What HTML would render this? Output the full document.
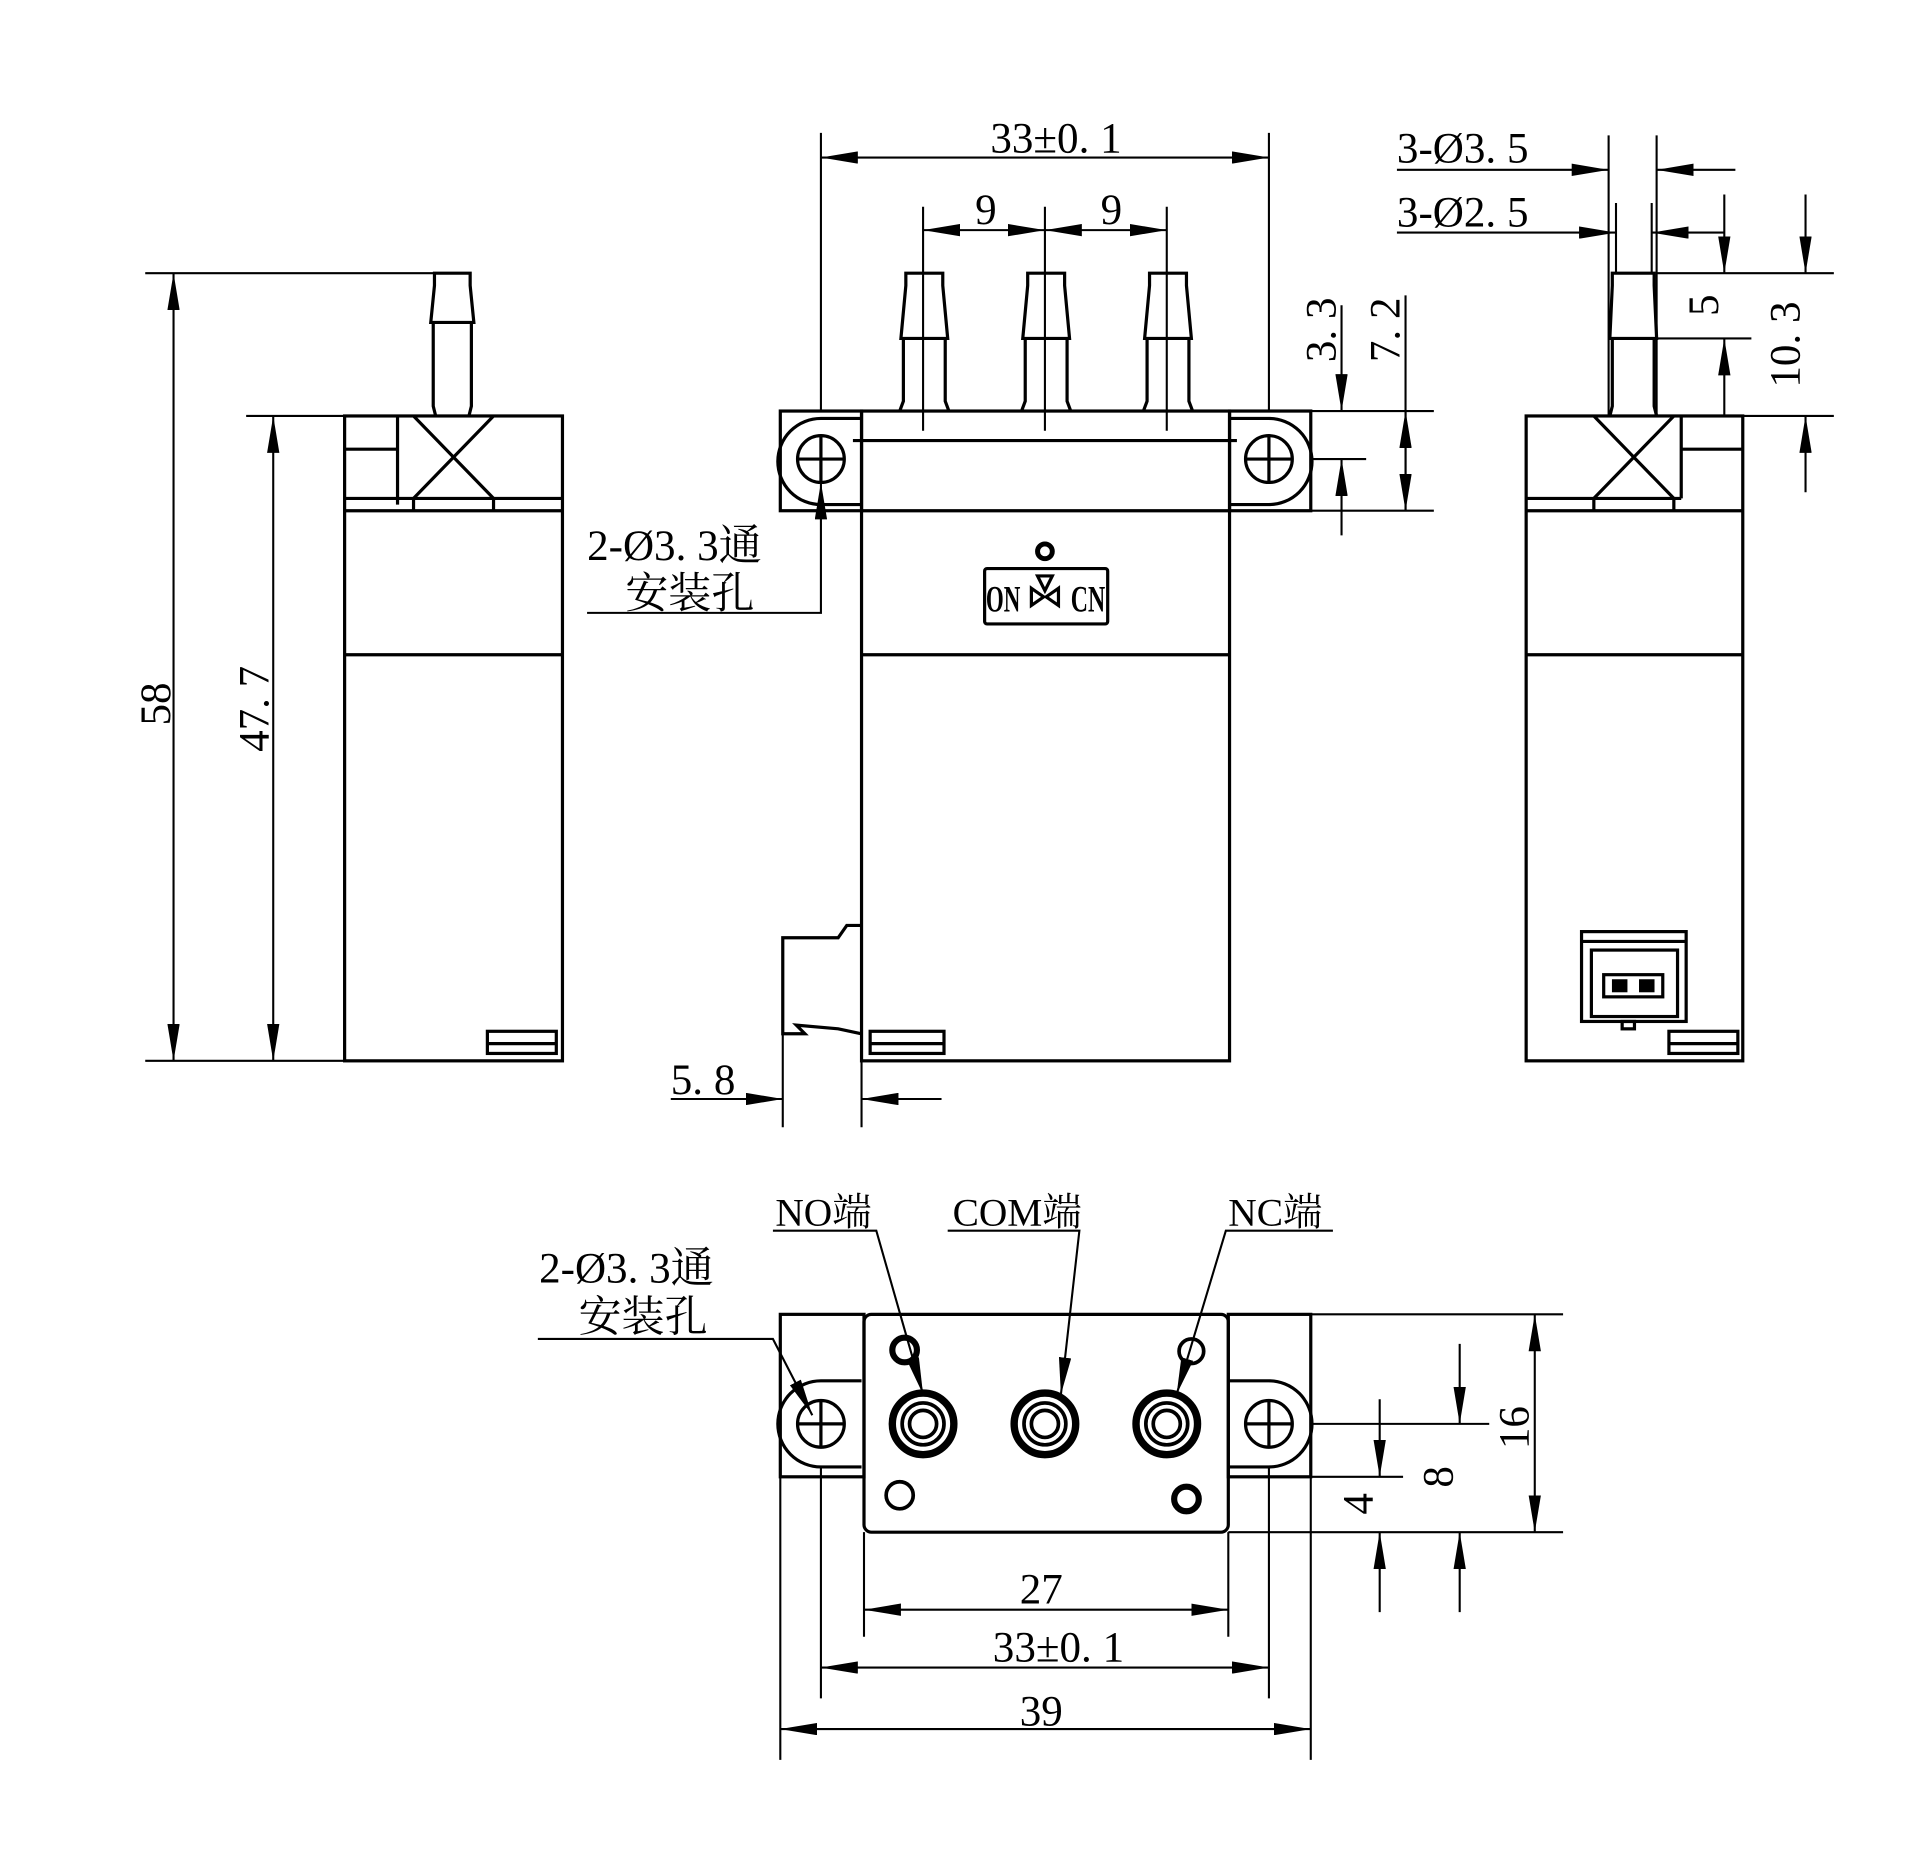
<!DOCTYPE html>
<html><head><meta charset="utf-8"><style>
html,body{margin:0;padding:0;background:#fff;}
svg{display:block;}
text{font-family:"Liberation Serif","Noto Serif CJK SC",serif;fill:#000;}
</style></head><body>
<svg width="1920" height="1862" viewBox="0 0 1560 1513" preserveAspectRatio="none" xmlns="http://www.w3.org/2000/svg">
<defs>
<marker id="a" viewBox="0 0 30 10" refX="30" refY="5" markerWidth="30" markerHeight="10" markerUnits="userSpaceOnUse" orient="auto-start-reverse"><path d="M0,0L30,5L0,10z" fill="#000"/></marker>
</defs>
<g fill="none" stroke="#000" stroke-width="2.6">
<!-- LEFT VIEW -->
<rect x="280" y="338" width="177" height="524"/>
<line x1="280" y1="415" x2="457" y2="415"/>
<line x1="280" y1="532" x2="457" y2="532"/>
<line x1="323" y1="338" x2="323" y2="410"/>
<line x1="280" y1="405" x2="457" y2="405"/>
<path d="M336,338L401,405M401,338L336,405M336,405V415M401,405V415"/>
<line x1="280" y1="365" x2="323" y2="365"/>
<path d="M350,262L353,232V222H382V232L385,262Z"/>
<path d="M352,262V330L354,338M383,262V330L381,338"/>
<rect x="396" y="838" width="56" height="18"/>
<line x1="396" y1="848" x2="452" y2="848"/>
<!-- CENTER VIEW -->
<rect x="700" y="334" width="299" height="528"/>
<line x1="700" y1="415" x2="999" y2="415"/>
<line x1="700" y1="532" x2="999" y2="532"/>
<line x1="693" y1="358" x2="1005" y2="358"/>
<rect x="634" y="334" width="66" height="81"/>
<rect x="999" y="334" width="66" height="81"/>
<path d="M700,340H667A35,35 0 0 0 667,410H700"/>
<path d="M999,340H1031A35,35 0 0 1 1031,410H999"/>
<circle cx="667" cy="373" r="19"/><path d="M648,373H686M667,354V392"/>
<circle cx="1031" cy="373" r="19"/><path d="M1012,373H1050M1031,354V392"/>
<g id="nip">
<path d="M732,275L736,232V222H766V232L770,275Z"/>
<path d="M734,275V326L731,334M768,275V326L771,334"/>
</g>
<use href="#nip" x="99"/><use href="#nip" x="198"/>
<rect x="800" y="462" width="100" height="45" rx="2"/>
<circle cx="849" cy="448" r="6" stroke-width="4"/>
<path d="M838,478L848,485L838,492Z M860,478L850,485L860,492Z M843,468H855L849,480Z"/>
<path d="M700,752H688L681,762H636V840H654L647,833L681,836L700,840"/>
<rect x="707" y="838" width="60" height="18"/>
<line x1="707" y1="848" x2="767" y2="848"/>
<!-- RIGHT VIEW -->
<rect x="1240" y="338" width="176" height="524"/>
<line x1="1240" y1="415" x2="1416" y2="415"/>
<line x1="1240" y1="532" x2="1416" y2="532"/>
<line x1="1240" y1="405" x2="1366" y2="405"/>
<path d="M1295,338L1360,405M1360,338L1295,405M1295,405V415M1360,405V415"/>
<line x1="1366" y1="338" x2="1366" y2="405"/>
<line x1="1366" y1="365" x2="1416" y2="365"/>
<path d="M1308,275L1310,232V222H1344V232L1346,275Z"/>
<path d="M1310,275V330L1308,338M1344,275V330L1346,338"/>
<rect x="1285" y="757" width="85" height="73"/>
<line x1="1285" y1="765" x2="1370" y2="765"/>
<rect x="1293" y="772" width="70" height="54"/>
<rect x="1303" y="792" width="48" height="18"/>
<rect x="1311" y="797" width="10" height="8" fill="#000"/>
<rect x="1333" y="797" width="10" height="8" fill="#000"/>
<rect x="1318" y="830" width="10" height="6"/>
<rect x="1356" y="838" width="56" height="18"/>
<line x1="1356" y1="848" x2="1412" y2="848"/>
<!-- BOTTOM VIEW -->
<rect x="634" y="1068" width="68" height="132"/>
<rect x="998" y="1068" width="67" height="132"/>
<rect x="702" y="1068" width="296" height="177" rx="6"/>
<path d="M700,1122H667A35,35 0 0 0 667,1192H700"/>
<path d="M999,1122H1031A35,35 0 0 1 1031,1192H999"/>
<circle cx="667" cy="1157" r="19"/><path d="M648,1157H686M667,1138V1176"/>
<circle cx="1031" cy="1157" r="19"/><path d="M1012,1157H1050M1031,1138V1176"/>
<g stroke-width="3">
<circle cx="750" cy="1157" r="25" stroke-width="6"/><circle cx="750" cy="1157" r="17"/><circle cx="750" cy="1157" r="11"/>
<circle cx="849" cy="1157" r="25" stroke-width="6"/><circle cx="849" cy="1157" r="17"/><circle cx="849" cy="1157" r="11"/>
<circle cx="948" cy="1157" r="25" stroke-width="6"/><circle cx="948" cy="1157" r="17"/><circle cx="948" cy="1157" r="11"/>
<circle cx="735" cy="1097" r="10" stroke-width="5"/>
<circle cx="968" cy="1098" r="10"/>
<circle cx="731" cy="1215" r="11"/>
<circle cx="964" cy="1218" r="10" stroke-width="5"/>
</g>
</g>
<!-- DIMENSIONS -->
<g fill="none" stroke="#000" stroke-width="1.7">
<line x1="118" y1="222" x2="383" y2="222"/>
<line x1="118" y1="862" x2="280" y2="862"/>
<line x1="200" y1="338" x2="280" y2="338"/>
<line x1="141" y1="222" x2="141" y2="862" marker-start="url(#a)" marker-end="url(#a)"/>
<line x1="222" y1="338" x2="222" y2="862" marker-start="url(#a)" marker-end="url(#a)"/>
<line x1="667" y1="108" x2="667" y2="334"/>
<line x1="1031" y1="108" x2="1031" y2="334"/>
<line x1="667" y1="128" x2="1031" y2="128" marker-start="url(#a)" marker-end="url(#a)"/>
<line x1="750" y1="168" x2="750" y2="350"/>
<line x1="849" y1="168" x2="849" y2="350"/>
<line x1="948" y1="168" x2="948" y2="350"/>
<line x1="750" y1="187" x2="849" y2="187" marker-start="url(#a)" marker-end="url(#a)"/>
<line x1="849" y1="187" x2="948" y2="187" marker-start="url(#a)" marker-end="url(#a)"/>
<line x1="1065" y1="334" x2="1165" y2="334"/>
<line x1="1065" y1="373" x2="1110" y2="373"/>
<line x1="1065" y1="415" x2="1165" y2="415"/>
<line x1="1090" y1="248" x2="1090" y2="334" marker-end="url(#a)"/>
<line x1="1090" y1="435" x2="1090" y2="373" marker-end="url(#a)"/>
<line x1="1142" y1="240" x2="1142" y2="415"/>
<line x1="1142" y1="334" x2="1142" y2="415" marker-start="url(#a)" marker-end="url(#a)"/>
<line x1="636" y1="840" x2="636" y2="916"/>
<line x1="700" y1="862" x2="700" y2="916"/>
<line x1="545" y1="893" x2="636" y2="893" marker-end="url(#a)"/>
<line x1="765" y1="893" x2="700" y2="893" marker-end="url(#a)"/>
<polyline points="477,498 667,498 667,392" marker-end="url(#a)"/>
<line x1="1307" y1="110" x2="1307" y2="338"/>
<line x1="1346" y1="110" x2="1346" y2="338"/>
<line x1="1313" y1="165" x2="1313" y2="222"/>
<line x1="1342" y1="165" x2="1342" y2="222"/>
<line x1="1135" y1="138" x2="1307" y2="138" marker-end="url(#a)"/>
<line x1="1410" y1="138" x2="1346" y2="138" marker-end="url(#a)"/>
<line x1="1135" y1="189" x2="1313" y2="189" marker-end="url(#a)"/>
<line x1="1401" y1="189" x2="1342" y2="189" marker-end="url(#a)"/>
<line x1="1346" y1="222" x2="1490" y2="222"/>
<line x1="1346" y1="275" x2="1423" y2="275"/>
<line x1="1416" y1="338" x2="1490" y2="338"/>
<line x1="1401" y1="158" x2="1401" y2="222" marker-end="url(#a)"/>
<line x1="1401" y1="338" x2="1401" y2="275" marker-end="url(#a)"/>
<line x1="1467" y1="158" x2="1467" y2="222" marker-end="url(#a)"/>
<line x1="1467" y1="400" x2="1467" y2="338" marker-end="url(#a)"/>
<line x1="634" y1="1200" x2="634" y2="1430"/>
<line x1="1065" y1="1200" x2="1065" y2="1430"/>
<line x1="667" y1="1192" x2="667" y2="1380"/>
<line x1="1031" y1="1192" x2="1031" y2="1380"/>
<line x1="702" y1="1245" x2="702" y2="1330"/>
<line x1="998" y1="1245" x2="998" y2="1330"/>
<line x1="702" y1="1308" x2="998" y2="1308" marker-start="url(#a)" marker-end="url(#a)"/>
<line x1="667" y1="1355" x2="1031" y2="1355" marker-start="url(#a)" marker-end="url(#a)"/>
<line x1="634" y1="1405" x2="1065" y2="1405" marker-start="url(#a)" marker-end="url(#a)"/>
<line x1="1065" y1="1068" x2="1270" y2="1068"/>
<line x1="998" y1="1245" x2="1270" y2="1245"/>
<line x1="1065" y1="1157" x2="1210" y2="1157"/>
<line x1="1065" y1="1200" x2="1140" y2="1200"/>
<line x1="1247" y1="1068" x2="1247" y2="1245" marker-start="url(#a)" marker-end="url(#a)"/>
<line x1="1186" y1="1092" x2="1186" y2="1157" marker-end="url(#a)"/>
<line x1="1186" y1="1310" x2="1186" y2="1245" marker-end="url(#a)"/>
<line x1="1121" y1="1137" x2="1121" y2="1200" marker-end="url(#a)"/>
<line x1="1121" y1="1310" x2="1121" y2="1245" marker-end="url(#a)"/>
<polyline points="628,1000 712,1000 750,1133" marker-end="url(#a)"/>
<polyline points="770,1000 877,1000 862,1133" marker-end="url(#a)"/>
<polyline points="1083,1000 996,1000 956,1133" marker-end="url(#a)"/>
<polyline points="437,1088 628,1088 660,1150" marker-end="url(#a)"/>
</g>
<g font-size="35">
<text x="858" y="124" text-anchor="middle">33±0. 1</text>
<text x="801" y="182" text-anchor="middle">9</text>
<text x="903" y="182" text-anchor="middle">9</text>
<text transform="translate(138,572) rotate(-90)" text-anchor="middle">58</text>
<text transform="translate(218,576) rotate(-90)" text-anchor="middle">47. 7</text>
<text transform="translate(1085,268) rotate(-90)" text-anchor="middle">3. 3</text>
<text transform="translate(1137,268) rotate(-90)" text-anchor="middle">7. 2</text>
<text x="477" y="455">2-Ø3. 3通</text>
<text x="508" y="494">安装孔</text>
<text x="545" y="889">5. 8</text>
<text x="1135" y="132">3-Ø3. 5</text>
<text x="1135" y="184">3-Ø2. 5</text>
<text transform="translate(1396,248) rotate(-90)" text-anchor="middle">5</text>
<text transform="translate(1462,280) rotate(-90)" text-anchor="middle">10. 3</text>
<text x="630" y="996" font-size="32">NO端</text>
<text x="774" y="996" font-size="32">COM端</text>
<text x="998" y="996" font-size="32">NC端</text>
<text x="438" y="1042">2-Ø3. 3通</text>
<text x="470" y="1082">安装孔</text>
<text x="846" y="1303" text-anchor="middle">27</text>
<text x="860" y="1350" text-anchor="middle">33±0. 1</text>
<text x="846" y="1402" text-anchor="middle">39</text>
<text transform="translate(1242,1160) rotate(-90)" text-anchor="middle">16</text>
<text transform="translate(1180,1200) rotate(-90)" text-anchor="middle">8</text>
<text transform="translate(1115,1222) rotate(-90)" text-anchor="middle">4</text>
</g>
<g font-family="Liberation Sans Narrow, Liberation Sans, sans-serif" font-weight="bold" font-size="30">
<text x="801" y="497" textLength="28" lengthAdjust="spacingAndGlyphs">ON</text>
<text x="870" y="497" textLength="28" lengthAdjust="spacingAndGlyphs">CN</text>
</g>
</svg>
</body></html>
